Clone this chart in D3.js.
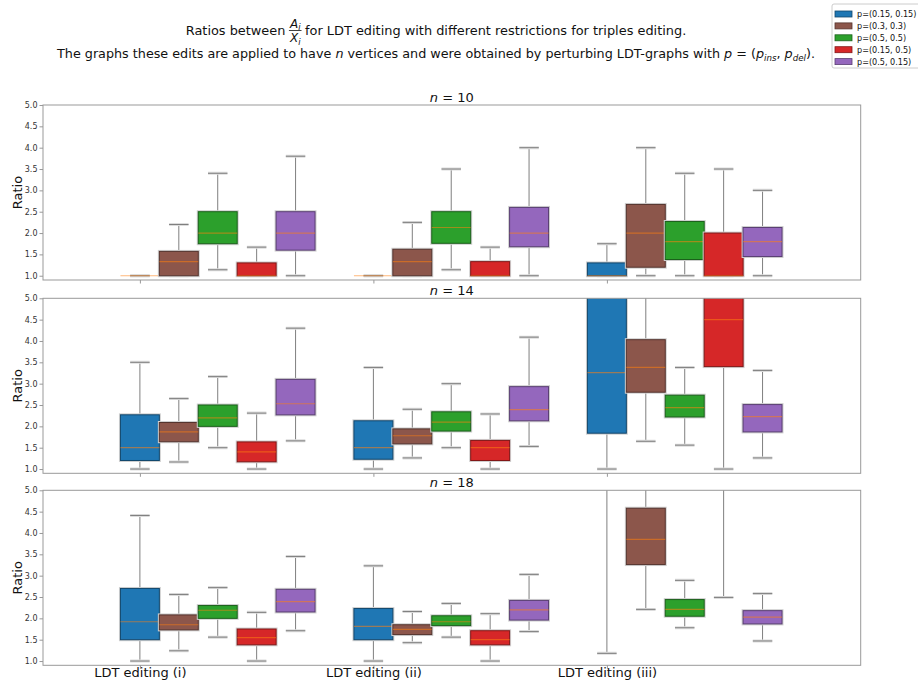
<!DOCTYPE html>
<html>
<head>
<meta charset="utf-8">
<script src="https://cdn.jsdelivr.net/npm/d3@7"></script>
<style>
  body { margin: 0; background: #fff; }
  svg { display: block; font-family: "DejaVu Sans", sans-serif; }
  text { white-space: pre; }
</style>
</head>
<body>
<svg id="chart" width="918" height="682"></svg>
<script>
// ---- data -------------------------------------------------------------
const categories = ["LDT editing (i)", "LDT editing (ii)", "LDT editing (iii)"];
const seriesLabels = ["p=(0.15, 0.15)", "p=(0.3, 0.3)", "p=(0.5, 0.5)", "p=(0.15, 0.5)", "p=(0.5, 0.15)"];
const seriesColors = ["#1f77b4", "#8c564b", "#2ca02c", "#d62728", "#9467bd"];
const panelSizes = [10, 14, 18];
const yTicks = [1.0, 1.5, 2.0, 2.5, 3.0, 3.5, 4.0, 4.5, 5.0];

// box statistics per series, per category: [whisker low, q1, median, q3, whisker high]
const statsN10 = [
  [[1, 1, 1, 1, 1], [1, 1, 1, 1, 1], [1, 1, 1, 1.3, 1.75]],
  [[1, 1, 1.33, 1.57, 2.2], [1, 1, 1.33, 1.62, 2.25], [1, 1.2, 2.0, 2.67, 4.0]],
  [[1.14, 1.75, 2.0, 2.5, 3.4], [1.14, 1.76, 2.13, 2.5, 3.5], [1, 1.38, 1.8, 2.27, 3.4]],
  [[1, 1, 1, 1.3, 1.67], [1, 1, 1, 1.33, 1.67], [1, 1, 1, 2.0, 3.5]],
  [[1, 1.6, 2.0, 2.5, 3.8], [1, 1.68, 2.0, 2.6, 4.0], [1, 1.45, 1.8, 2.13, 3.0]]
];
const statsN14 = [
  [[1, 1.2, 1.5, 2.27, 3.5], [1, 1.23, 1.5, 2.13, 3.38], [1, 1.84, 3.26, 5.7, 8.5]],
  [[1.165, 1.64, 1.87, 2.09, 2.65], [1.26, 1.59, 1.78, 1.94, 2.4], [1.65, 2.8, 3.38, 4.03, 6.2]],
  [[1.5, 2.0, 2.2, 2.5, 3.165], [1.5, 1.89, 2.1, 2.34, 3.0], [1.56, 2.22, 2.44, 2.73, 3.38]],
  [[1, 1.17, 1.4, 1.635, 2.31], [1, 1.2, 1.5, 1.67, 2.29], [1, 3.4, 4.5, 5.6, 9.0]],
  [[1.66, 2.27, 2.53, 3.1, 4.3], [1.53, 2.13, 2.39, 2.93, 4.09], [1.26, 1.87, 2.23, 2.51, 3.31]]
];
const statsN18 = [
  [[1, 1.5, 1.92, 2.7, 4.41], [1, 1.5, 1.81, 2.23, 3.23], [1.18, 5.4, 6.5, 8.0, 12.0]],
  [[1.24, 1.73, 1.85, 2.08, 2.56], [1.43, 1.62, 1.74, 1.85, 2.16], [2.21, 3.26, 3.85, 4.58, 6.5]],
  [[1.56, 2.0, 2.19, 2.3, 2.72], [1.56, 1.83, 1.92, 2.06, 2.35], [1.78, 2.05, 2.21, 2.44, 2.89]],
  [[1, 1.38, 1.55, 1.75, 2.14], [1, 1.38, 1.5, 1.71, 2.11], [2.49, 5.5, 7.0, 9.0, 14.0]],
  [[1.71, 2.15, 2.39, 2.68, 3.45], [1.69, 1.96, 2.2, 2.42, 3.03], [1.47, 1.87, 2.03, 2.18, 2.58]]
];
const panelStats = [statsN10, statsN14, statsN18];

// ---- layout -----------------------------------------------------------
const svg = d3.select("#chart");
const axLeft = 43, axRight = 860.7, axHeight = 175;
const panelTops = [105, 298.3, 490.3];
const boxWidth = 1 / 6;

const x = d3.scaleLinear().domain([0.585, 4.087]).range([axLeft, axRight]);
const pos = (ci, si) => ci + 1 + si * boxWidth;
const spineColor = "#999";
const whiskerColor = "#7f7f7f";

panelSizes.forEach((n, pi) => {
  const top = panelTops[pi];
  const y = d3.scaleLinear().domain([0.9, 5.0]).range([top + axHeight, top]);
  const g = svg.append("g");
  const clipId = "clip" + pi;
  svg.append("clipPath").attr("id", clipId)
    .append("rect").attr("x", axLeft).attr("y", top)
    .attr("width", axRight - axLeft).attr("height", axHeight);

  const plot = g.append("g").attr("clip-path", `url(#${clipId})`);
  const stats = panelStats[pi];

  stats.forEach((seriesStats, si) => {
    const color = seriesColors[si];
    const edge = d3.color(color).darker(1.4).formatHex();
    seriesStats.forEach((s, ci) => {
      const [lo, q1, med, q3, hi] = s;
      const cx = x(pos(ci, si));
      const bw = x(pos(ci, si) + boxWidth) - x(pos(ci, si));
      const cw = bw / 2;
      // whiskers
      plot.append("line").attr("x1", cx).attr("x2", cx).attr("y1", y(q3)).attr("y2", y(hi))
        .attr("stroke", whiskerColor).attr("stroke-width", 1);
      plot.append("line").attr("x1", cx).attr("x2", cx).attr("y1", y(q1)).attr("y2", y(lo))
        .attr("stroke", whiskerColor).attr("stroke-width", 1);
      // caps with light halo
      [lo, hi].forEach(v => {
        plot.append("line").attr("x1", cx - cw / 2).attr("x2", cx + cw / 2)
          .attr("y1", y(v)).attr("y2", y(v)).attr("stroke", "#dcdcdc").attr("stroke-width", 3);
        plot.append("line").attr("x1", cx - cw / 2).attr("x2", cx + cw / 2)
          .attr("y1", y(v)).attr("y2", y(v)).attr("stroke", whiskerColor).attr("stroke-width", 1);
      });
      // box
      if (q3 > q1) {
        plot.append("rect").attr("x", cx - bw / 2).attr("y", y(q3))
          .attr("width", bw).attr("height", y(q1) - y(q3))
          .attr("fill", "none").attr("stroke", "#d0d0d0").attr("stroke-width", 3);
        plot.append("rect").attr("x", cx - bw / 2).attr("y", y(q3))
          .attr("width", bw).attr("height", y(q1) - y(q3))
          .attr("fill", color).attr("stroke", edge).attr("stroke-width", 1);
      }
      // median
      plot.append("line").attr("x1", cx - bw / 2).attr("x2", cx + bw / 2)
        .attr("y1", y(med)).attr("y2", y(med))
        .attr("stroke", "#ff7f0e").attr("stroke-opacity", 0.55).attr("stroke-width", 1.2);
    });
  });

  // spines
  g.append("rect").attr("x", axLeft).attr("y", top)
    .attr("width", axRight - axLeft).attr("height", axHeight)
    .attr("fill", "none").attr("stroke", spineColor).attr("stroke-width", 1);

  // y axis
  const yAxis = d3.axisLeft(y).tickValues(yTicks).tickFormat(d3.format(".1f")).tickSize(3.5).tickPadding(2);
  const ya = g.append("g").attr("transform", `translate(${axLeft},0)`).call(yAxis);
  ya.select(".domain").remove();
  ya.selectAll(".tick line").attr("stroke", spineColor);
  ya.selectAll(".tick text").attr("fill", "#333").style("font-size", "8px")
    .style("font-family", "DejaVu Sans, sans-serif");

  // x axis
  const xAxis = d3.axisBottom(x).tickValues([1, 2, 3])
    .tickFormat(pi === 2 ? (d => categories[d - 1]) : () => "").tickSize(3.5).tickPadding(4);
  const xa = g.append("g").attr("transform", `translate(0,${top + axHeight})`).call(xAxis);
  xa.select(".domain").remove();
  xa.selectAll(".tick line").attr("stroke", spineColor);
  xa.selectAll(".tick text").attr("fill", "#111").style("font-size", "13px")
    .style("font-family", "DejaVu Sans, sans-serif")
    .attr("y", 677 - (top + axHeight)).attr("dy", 0);

  // y label
  g.append("text").attr("transform", `translate(21.5,${top + axHeight / 2}) rotate(-90)`)
    .attr("text-anchor", "middle").style("font-size", "13px").attr("fill", "#111").text("Ratio");

  // panel title
  const t = g.append("text").attr("x", (axLeft + axRight) / 2).attr("y", top - 3.5)
    .attr("text-anchor", "middle").style("font-size", "13px").attr("fill", "#111");
  t.append("tspan").style("font-style", "italic").text("n");
  t.append("tspan").text(" = " + n);
});

// ---- figure title -------------------------------------------------------
const titleCx = 436;
{
  const line1Base = 35;
  const tg = svg.append("g").attr("fill", "#111");
  const a = tg.append("text").attr("y", line1Base).style("font-size", "12.9px").text("Ratios between");
  const fr = tg.append("g");
  const num = fr.append("text").attr("y", line1Base - 7.5).attr("text-anchor", "middle").style("font-size", "12px");
  num.append("tspan").style("font-style", "italic").text("A");
  num.append("tspan").style("font-style", "italic").style("font-size", "8.5px").attr("dy", 2.5).text("i");
  const den = fr.append("text").attr("y", line1Base + 7).attr("text-anchor", "middle").style("font-size", "12px");
  den.append("tspan").style("font-style", "italic").text("X");
  den.append("tspan").style("font-style", "italic").style("font-size", "8.5px").attr("dy", 2.5).text("i");
  const b = tg.append("text").attr("y", line1Base).style("font-size", "12.9px")
    .text("for LDT editing with different restrictions for triples editing.");
  const gap = 3.5;
  const wa = a.node().getComputedTextLength();
  const wf = Math.max(num.node().getComputedTextLength(), den.node().getComputedTextLength()) + 2;
  const wb = b.node().getComputedTextLength();
  const x0 = titleCx - (wa + wf + wb + 2 * gap) / 2;
  a.attr("x", x0);
  const fx = x0 + wa + gap;
  num.attr("x", fx + wf / 2);
  den.attr("x", fx + wf / 2);
  fr.append("line").attr("x1", fx).attr("x2", fx + wf)
    .attr("y1", line1Base - 4.5).attr("y2", line1Base - 4.5).attr("stroke", "#111").attr("stroke-width", 0.8);
  b.attr("x", fx + wf + gap);

  const l2 = tg.append("text").attr("x", titleCx).attr("y", 58).attr("text-anchor", "middle")
    .style("font-size", "12.75px");
  l2.append("tspan").text("The graphs these edits are applied to have ");
  l2.append("tspan").style("font-style", "italic").text("n");
  l2.append("tspan").text(" vertices and were obtained by perturbing LDT-graphs with ");
  l2.append("tspan").style("font-style", "italic").text("p");
  l2.append("tspan").text(" = (");
  l2.append("tspan").style("font-style", "italic").text("p");
  l2.append("tspan").style("font-style", "italic").style("font-size", "8.7px").attr("dy", 2.5).text("ins");
  l2.append("tspan").attr("dy", -2.5).text(", ");
  l2.append("tspan").style("font-style", "italic").text("p");
  l2.append("tspan").style("font-style", "italic").style("font-size", "8.7px").attr("dy", 2.5).text("del");
  l2.append("tspan").attr("dy", -2.5).text(").");
}

// ---- legend -------------------------------------------------------------
{
  const lg = svg.append("g");
  lg.append("rect").attr("x", 832).attr("y", 4).attr("width", 95).attr("height", 64).attr("rx", 2)
    .attr("fill", "#fff").attr("stroke", "#cccccc").attr("stroke-width", 1);
  seriesLabels.forEach((lab, i) => {
    const cy = 14 + i * 11.9;
    lg.append("rect").attr("x", 835).attr("y", cy - 3).attr("width", 17).attr("height", 6)
      .attr("fill", seriesColors[i]).attr("stroke", d3.color(seriesColors[i]).darker(1.4).formatHex()).attr("stroke-width", 0.8);
    lg.append("text").attr("x", 857).attr("y", cy).attr("dominant-baseline", "central")
      .style("font-size", "8.1px").attr("fill", "#111").text(lab);
  });
}
</script>
</body>
</html>
